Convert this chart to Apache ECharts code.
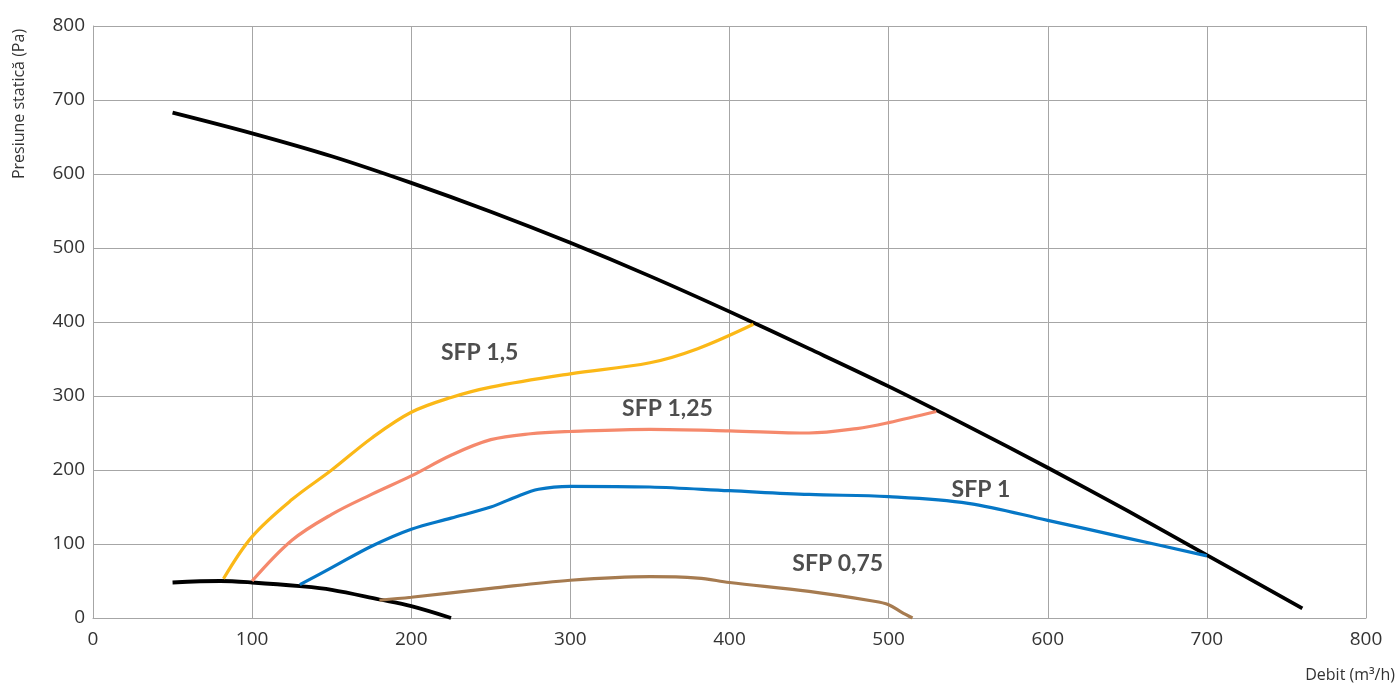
<!DOCTYPE html>
<html><head><meta charset="utf-8">
<script src="https://cdn.jsdelivr.net/npm/echarts@6/dist/echarts.min.js"></script>
<style>html,body{margin:0;padding:0;background:#fff}#c{width:1397px;height:683px}</style>
</head><body><div id="c"></div>
<script>
const xTicks = [0,100,200,300,400,500,600,700,800];
const yTicks = [0,100,200,300,400,500,600,700,800];
const fanHigh = [[50,683],[100,655],[150,624],[200,588],[250,549],[300,507],[350,462],[400,414],[450,364],[500,313],[550,259],[600,203],[650,145],[700,85],[760,13]];
const fanLow = [[50,48],[80,50],[100,48],[130,43],[150,38],[180,25],[200,16],[225,0]];
const sfp15 = [[82,53],[100,110],[125,160],[150,200],[175,243],[200,278],[225,298],[250,312],[300,330],[350,345],[380,364],[415,397]];
const sfp125 = [[100,50],[125,105],[150,140],[175,167],[200,192],[225,220],[250,241],[275,249],[300,252],[350,255],[400,253],[450,250],[480,256],[500,264],[530,279]];
const sfp1 = [[130,45],[150,68],[175,97],[200,120],[225,135],[250,150],[265,163],[280,174],[300,178],[350,177],[400,172],[450,167],[500,164],[550,155],[600,132],[650,108],[700,84]];
const sfp075 = [[180,24],[200,28],[250,40],[300,51],[350,56],[380,54],[400,48],[450,36],[490,23],[500,18],[508,8],[515,0]];
const labelTexts = ['SFP 1,5','SFP 1,25','SFP 1','SFP 0,75'];
const labelPos = [[243,359],[361,283],[558,174],[468,74]];

const chart = echarts.init(document.getElementById('c'), null, {renderer:'canvas'});
const lineS = (data, color, w) => ({type:'line', data, smooth:0.35, symbol:'none', lineStyle:{color, width:w}, itemStyle:{color}, silent:true, z:3});
chart.setOption({
  animation:false,
  grid:{left:93, right:31, top:26, bottom:65, containLabel:false},
  xAxis:{type:'value', min:0, max:800, interval:100,
    axisLine:{show:true, lineStyle:{color:'#a6a6a6', width:1}},
    axisTick:{show:false},
    splitLine:{show:true, lineStyle:{color:'#a6a6a6', width:1}},
    axisLabel:{color:'#333', fontSize:19, fontFamily:'Open Sans', margin:12}},
  yAxis:{type:'value', min:0, max:800, interval:100,
    axisLine:{show:true, lineStyle:{color:'#a6a6a6', width:1}},
    axisTick:{show:false},
    splitLine:{show:true, lineStyle:{color:'#a6a6a6', width:1}},
    axisLabel:{color:'#333', fontSize:19, fontFamily:'Open Sans', margin:8, verticalAlign:'middle', padding:[0,0,8,0]}},
  series:[
    lineS(fanHigh,'#000000',3.8),
    lineS(fanLow,'#000000',3.8),
    lineS(sfp15,'#FBB817',3.2),
    lineS(sfp125,'#F5896C',3.2),
    lineS(sfp1,'#0677C6',3.2),
    lineS(sfp075,'#A67B50',3.2),
    {type:'scatter', symbolSize:0, silent:true, z:5,
      data: labelPos.map((p,i)=>({value:p, name:labelTexts[i]})),
      label:{show:true, position:'inside', formatter:p=>p.name, color:'#222', fontSize:23, fontWeight:'bold', fontFamily:'Lato'}}
  ],
  graphic:[
    {type:'text', x:19, y:104, rotation:Math.PI/2, style:{text:'Presiune statică (Pa)', font:'16px "Open Sans"', fill:'#333', align:'center', verticalAlign:'middle'}},
    {type:'text', x:1395, y:675, style:{text:'Debit (m³/h)', font:'16px "Open Sans"', fill:'#333', align:'right', verticalAlign:'middle'}}
  ]
});
</script></body></html>
